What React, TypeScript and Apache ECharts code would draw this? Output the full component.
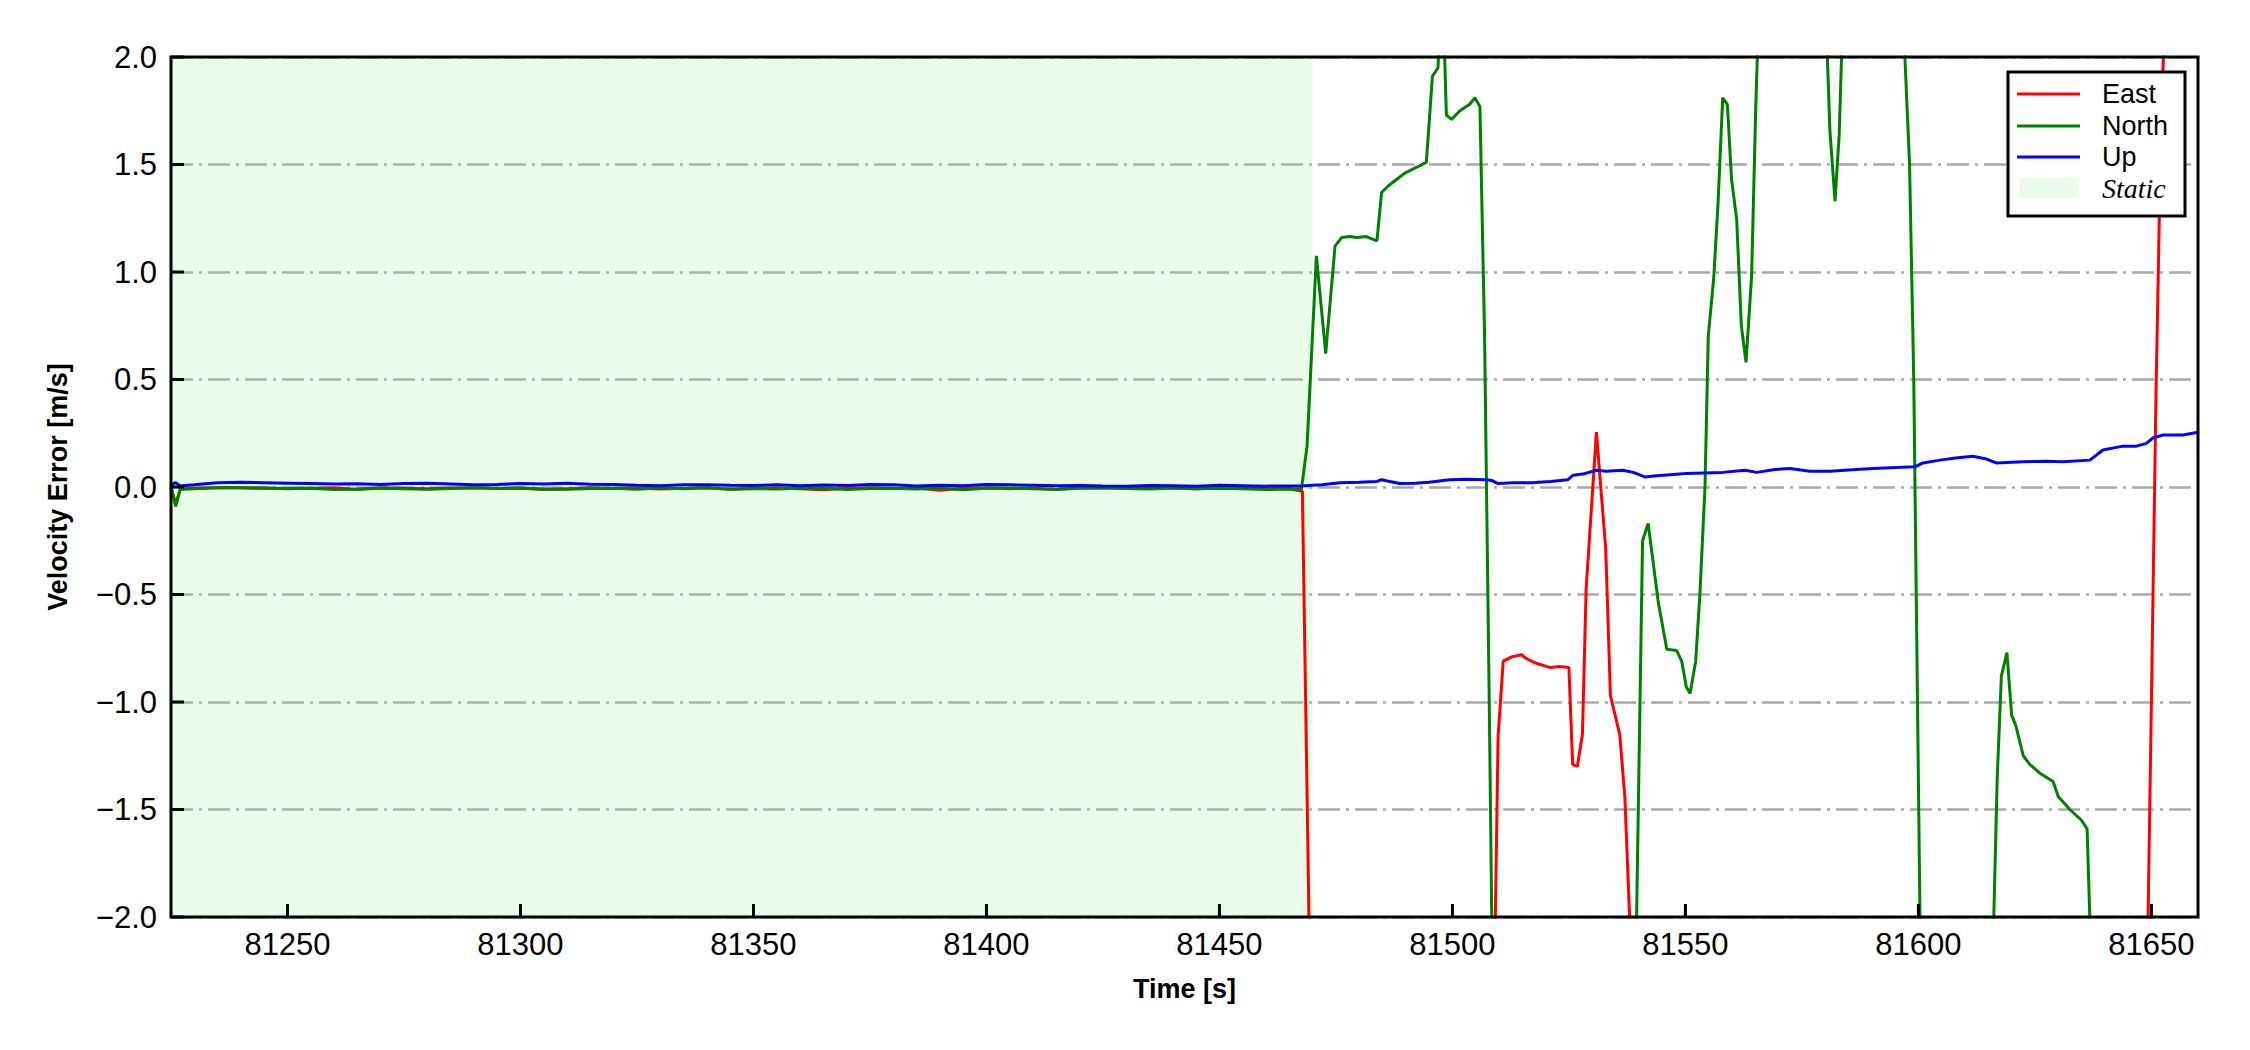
import React, { useEffect, useRef } from "react";
import * as echarts from "echarts";

// ---- data ----
const xMin = 81225;
const xMax = 81660;
const yMin = -2;
const yMax = 2;
const yStep = 0.5;
const xTickValues = [81250, 81300, 81350, 81400, 81450, 81500, 81550, 81600, 81650];
const yTickValues = [-2, -1.5, -1, -0.5, 0, 0.5, 1, 1.5, 2];
const staticSpan = [81225, 81470];
const seriesNames = ["East", "North", "Up"];
const seriesColors = ["#ff0000", "#008000", "#0000ff"];
const staticColor = "rgba(144,238,144,0.2)";
const staticLegendColor = "#e9fce9";

const eastData: number[][] = [
  [81225, 0.0], [81226, -0.08], [81227, -0.01], [81230, -0.005], [81235, -0.003],
  [81240, -0.004], [81245, -0.006], [81250, -0.008], [81255, -0.006], [81260, -0.005],
  [81265, -0.01], [81270, -0.004], [81275, -0.006], [81280, -0.008], [81285, -0.005],
  [81290, -0.003], [81295, -0.007], [81300, -0.006], [81305, -0.012], [81310, -0.008],
  [81315, -0.004], [81320, -0.006], [81325, -0.005], [81330, -0.009], [81335, -0.006],
  [81340, -0.004], [81345, -0.01], [81350, -0.007], [81355, -0.005], [81360, -0.008],
  [81365, -0.013], [81370, -0.006], [81375, -0.004], [81380, -0.007], [81385, -0.005],
  [81390, -0.015], [81395, -0.006], [81400, -0.004], [81405, -0.008], [81410, -0.006],
  [81415, -0.012], [81420, -0.005], [81425, -0.003], [81430, -0.007], [81435, -0.006],
  [81440, -0.004], [81445, -0.009], [81450, -0.005], [81455, 0.002], [81460, -0.006],
  [81465, -0.008], [81467.8, -0.02], [81469, -1.7], [81470, -3.2], [81490, -3.5],
  [81508.5, -3.0], [81509.8, -1.16], [81510.9, -0.81], [81512.7, -0.79], [81514.8, -0.78],
  [81516, -0.8], [81518, -0.82], [81521, -0.84], [81523, -0.835], [81525, -0.84],
  [81525.8, -1.29], [81526.8, -1.3], [81527.9, -1.15], [81528.7, -0.47], [81530.9, 0.255],
  [81532.9, -0.29], [81533.9, -0.97], [81535.9, -1.15], [81537, -1.44], [81538.2, -2.1],
  [81540, -3.0], [81600, -3.5], [81648, -3.0], [81649, -2.4], [81650, -1.0],
  [81651, 0.45], [81652, 1.6], [81653, 2.3], [81660, 3.5],
];

const northData: number[][] = [
  [81225, 0.0], [81226, -0.09], [81227, -0.01], [81230, -0.008], [81235, -0.004],
  [81240, -0.003], [81245, -0.005], [81250, -0.007], [81255, -0.006], [81260, -0.012],
  [81265, -0.01], [81270, -0.006], [81275, -0.008], [81280, -0.01], [81285, -0.007],
  [81290, -0.004], [81295, -0.006], [81300, -0.005], [81305, -0.009], [81310, -0.01],
  [81315, -0.007], [81320, -0.006], [81325, -0.01], [81330, -0.005], [81335, -0.008],
  [81340, -0.004], [81345, -0.011], [81350, -0.007], [81355, -0.009], [81360, -0.006],
  [81365, -0.005], [81370, -0.012], [81375, -0.007], [81380, -0.006], [81385, -0.009],
  [81390, -0.005], [81395, -0.013], [81400, -0.006], [81405, -0.005], [81410, -0.008],
  [81415, -0.01], [81420, -0.006], [81425, -0.004], [81430, -0.007], [81435, -0.009],
  [81440, -0.005], [81445, -0.007], [81450, -0.006], [81455, -0.008], [81460, -0.012],
  [81465, -0.009], [81467.6, -0.01], [81468.8, 0.19], [81470.8, 1.075], [81472.8, 0.62],
  [81474.8, 1.12], [81476.2, 1.16], [81478, 1.165], [81479.5, 1.16], [81481.5, 1.165],
  [81483.8, 1.145], [81484.8, 1.37], [81486.2, 1.4], [81488, 1.43], [81489.8, 1.46],
  [81491.6, 1.48], [81494.4, 1.51], [81495.7, 1.91], [81496.9, 1.95], [81497.8, 2.4],
  [81498.7, 1.73], [81499.8, 1.71], [81501.6, 1.75], [81503.7, 1.78], [81504.8, 1.81],
  [81505.9, 1.77], [81506.9, 0.7], [81507.9, -1.0], [81508.7, -2.5], [81515, -3.5],
  [81530, -3.5], [81539.3, -2.3], [81540.8, -0.25], [81542, -0.17], [81544.2, -0.54],
  [81546, -0.755], [81548.1, -0.76], [81549.2, -0.81], [81550.2, -0.93], [81551, -0.96],
  [81552.2, -0.81], [81553.1, -0.5], [81554.2, 0.0], [81554.9, 0.7], [81556.1, 0.98],
  [81557, 1.32], [81558, 1.81], [81559, 1.78], [81559.9, 1.43], [81561, 1.245],
  [81562, 0.75], [81563, 0.58], [81564.2, 0.98], [81565.1, 1.77], [81566, 2.4],
  [81570, 3.0], [81578, 3.0], [81579.5, 2.6], [81581, 1.66], [81582.1, 1.33],
  [81583, 1.64], [81584.2, 2.5], [81590, 3.0], [81596, 2.6], [81597.1, 2.0],
  [81598.1, 1.5], [81599, 0.5], [81599.8, -1.0], [81600.5, -2.3], [81605, -3.0],
  [81615.5, -2.6], [81616.9, -1.36], [81617.8, -0.88], [81619, -0.77], [81620, -1.06],
  [81620.9, -1.11], [81622.5, -1.25], [81623.9, -1.29], [81626, -1.33], [81628.9, -1.37],
  [81630, -1.44], [81632.5, -1.5], [81635, -1.55], [81636.2, -1.59], [81637.2, -2.3],
  [81645, -3.0], [81660, -3.0],
];

const upData: number[][] = [
  [81225, 0.01], [81226, 0.02], [81227, 0.005], [81230, 0.01], [81235, 0.02],
  [81240, 0.022], [81245, 0.02], [81250, 0.018], [81255, 0.016], [81260, 0.014],
  [81265, 0.015], [81270, 0.012], [81275, 0.016], [81280, 0.018], [81285, 0.014],
  [81290, 0.01], [81295, 0.012], [81300, 0.016], [81305, 0.014], [81310, 0.018],
  [81315, 0.013], [81320, 0.012], [81325, 0.008], [81330, 0.006], [81335, 0.01],
  [81340, 0.011], [81345, 0.008], [81350, 0.007], [81355, 0.01], [81360, 0.006],
  [81365, 0.009], [81370, 0.007], [81375, 0.012], [81380, 0.01], [81385, 0.005],
  [81390, 0.008], [81395, 0.006], [81400, 0.012], [81405, 0.01], [81410, 0.008],
  [81415, 0.006], [81420, 0.007], [81425, 0.005], [81430, 0.004], [81435, 0.007],
  [81440, 0.006], [81445, 0.004], [81450, 0.008], [81455, 0.006], [81460, 0.004],
  [81465, 0.005], [81467.5, 0.005], [81470, 0.008], [81472, 0.01], [81475.8, 0.02],
  [81480, 0.022], [81483.8, 0.026], [81484.8, 0.034], [81486, 0.028], [81488.7, 0.016],
  [81492, 0.018], [81495, 0.022], [81499.4, 0.034], [81503, 0.036], [81507.3, 0.034],
  [81508.5, 0.03], [81509.8, 0.016], [81513, 0.02], [81517, 0.02], [81521, 0.026],
  [81524.8, 0.034], [81525.9, 0.055], [81528, 0.06], [81530.9, 0.078], [81533, 0.073],
  [81536.5, 0.078], [81538.8, 0.068], [81541.3, 0.047], [81543.8, 0.052], [81550.2, 0.0625],
  [81558, 0.068], [81562.8, 0.078], [81565.3, 0.068], [81569.2, 0.081], [81572.4, 0.086],
  [81576.7, 0.073], [81581, 0.073], [81586.7, 0.081], [81590.3, 0.086], [81594, 0.09],
  [81599.2, 0.094], [81601, 0.112], [81604.6, 0.125], [81608, 0.135], [81611.7, 0.143],
  [81614.6, 0.13], [81616.7, 0.112], [81622.5, 0.117], [81627.5, 0.12], [81631, 0.117],
  [81636.8, 0.125], [81639.6, 0.172], [81643.9, 0.19], [81646.8, 0.19], [81648.9, 0.203],
  [81650.4, 0.229], [81652.5, 0.242], [81656.8, 0.242], [81660, 0.255],
];

const seriesData = [eastData, northData, upData];

// ---- layout ----
const W = 2250;
const H = 1050;
const G = { left: 171, top: 57, width: 2027, height: 860 };
const SANS = "'Liberation Sans', Arial, Helvetica, sans-serif";
const SERIF = "'Liberation Serif', 'Times New Roman', serif";
const TICK_PX = 13;
const TICK_W = 3;

function fmtY(v: number): string {
  const s = Math.abs(v).toFixed(1);
  return v < 0 ? "\u2212" + s : s;
}

export default function App() {
  const ref = useRef<HTMLDivElement>(null);

  useEffect(() => {
    if (!ref.current) return;
    const chart = echarts.init(ref.current, undefined, { renderer: "svg" });

    const lg = { x: 2008, y: 72, w: 177, h: 144 };
    const rowY = [94, 126, 157, 188];
    const legendEls: any[] = [
      {
        type: "rect",
        shape: { x: lg.x, y: lg.y, width: lg.w, height: lg.h },
        style: { fill: "#ffffff", stroke: "#000000", lineWidth: 3 },
        z: 100,
      },
    ];
    seriesNames.forEach((name, i) => {
      legendEls.push({
        type: "line",
        shape: { x1: 2017, y1: rowY[i], x2: 2080, y2: rowY[i] },
        style: { stroke: seriesColors[i], lineWidth: 3 },
        z: 101,
      });
      legendEls.push({
        type: "text",
        x: 2102,
        y: rowY[i],
        style: {
          text: name,
          fill: "#000",
          font: `27px ${SANS}`,
          verticalAlign: "middle",
          align: "left",
        },
        z: 101,
      });
    });
    legendEls.push({
      type: "rect",
      shape: { x: 2019, y: 178, width: 59, height: 20 },
      style: { fill: staticLegendColor },
      z: 101,
    });
    legendEls.push({
      type: "text",
      x: 2102,
      y: rowY[3],
      style: {
        text: "Static",
        fill: "#000",
        font: `italic 28px ${SERIF}`,
        verticalAlign: "middle",
        align: "left",
      },
      z: 101,
    });

    const option: any = {
      animation: false,
      backgroundColor: "#ffffff",
      grid: {
        left: G.left,
        top: G.top,
        width: G.width,
        height: G.height,
        show: false,
      },
      xAxis: {
        type: "value",
        min: xMin,
        max: xMax,
        name: "Time [s]",
        nameLocation: "middle",
        nameGap: 58,
        nameTextStyle: { fontFamily: SANS, fontWeight: "bold", fontSize: 27, color: "#000" },
        axisLine: { show: false, onZero: false },
        axisTick: { show: false },
        axisLabel: {
          show: true,
          customValues: xTickValues,
          formatter: (v: number) => String(v),
          fontFamily: SANS,
          fontSize: 31,
          color: "#000",
          margin: 12,
        },
        splitLine: { show: false },
      },
      yAxis: {
        type: "value",
        min: yMin,
        max: yMax,
        interval: yStep,
        name: "Velocity Error [m/s]",
        nameLocation: "middle",
        nameGap: 100,
        nameRotate: 90,
        nameTextStyle: { fontFamily: SANS, fontWeight: "bold", fontSize: 27, color: "#000" },
        axisLine: { show: false, onZero: false },
        axisTick: { show: false },
        axisLabel: {
          formatter: fmtY,
          fontFamily: SANS,
          fontSize: 31,
          color: "#000",
          margin: 14,
        },
        splitLine: {
          show: true,
          lineStyle: { color: "#a9a9a9", width: 2.5, type: [22, 6, 3, 6] },
        },
      },
      series: [
        {
          type: "line",
          name: "static",
          data: [],
          silent: true,
          z: 1,
          markArea: {
            silent: true,
            itemStyle: { color: staticColor },
            data: [[{ xAxis: staticSpan[0] }, { xAxis: staticSpan[1] }]],
          },
        },
        ...seriesNames.map((name, i) => ({
          type: "line",
          name,
          data: seriesData[i],
          showSymbol: false,
          symbol: "none",
          clip: true,
          z: 3,
          lineStyle: { color: seriesColors[i], width: 3 },
          itemStyle: { color: seriesColors[i] },
        })),
        {
          type: "custom",
          name: "xticks",
          silent: true,
          clip: false,
          z: 6,
          data: xTickValues.map((v) => [v, yMin]),
          renderItem: (_params: any, api: any) => {
            const p = api.coord([api.value(0), api.value(1)]);
            return {
              type: "rect",
              shape: { x: p[0] - TICK_W / 2, y: p[1] - TICK_PX, width: TICK_W, height: TICK_PX },
              style: { fill: "#000" },
            };
          },
        },
        {
          type: "custom",
          name: "yticks",
          silent: true,
          clip: false,
          z: 6,
          data: yTickValues.map((v) => [xMin, v]),
          renderItem: (_params: any, api: any) => {
            const p = api.coord([api.value(0), api.value(1)]);
            return {
              type: "rect",
              shape: { x: p[0], y: p[1] - TICK_W / 2, width: TICK_PX, height: TICK_W },
              style: { fill: "#000" },
            };
          },
        },
      ],
      graphic: [
        {
          type: "rect",
          shape: { x: G.left, y: G.top, width: G.width, height: G.height },
          style: { fill: "none", stroke: "#000", lineWidth: 3 },
          z: 99,
          silent: true,
        },
        ...legendEls,
      ],
    };

    chart.setOption(option);
    return () => {
      chart.dispose();
    };
  }, []);

  return (
    <div
      ref={ref}
      style={{ position: "fixed", left: 0, top: 0, width: W, height: H, background: "#fff" }}
    />
  );
}
